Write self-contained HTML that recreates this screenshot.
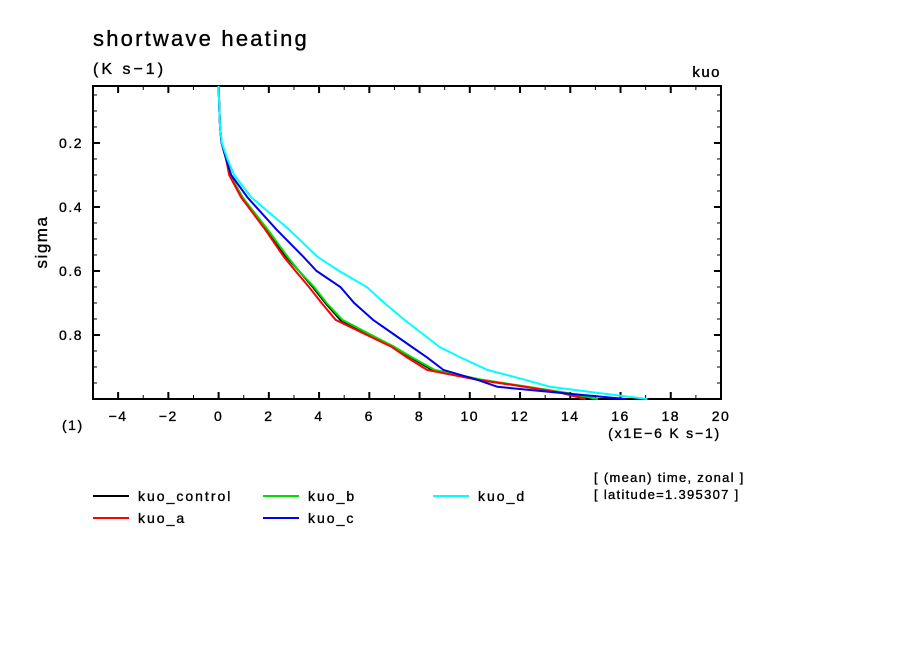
<!DOCTYPE html>
<html><head><meta charset="utf-8"><style>
html,body{margin:0;padding:0;background:#fff;}
svg{display:block;font-family:"Liberation Sans",sans-serif;}
text{stroke:#000;stroke-width:0.35;}
</style></head><body>
<svg id="chart" width="904" height="654" viewBox="0 0 904 654">
<text x="93" y="46" font-size="22" letter-spacing="2.2">shortwave heating</text>
<text x="93" y="74" font-size="16" letter-spacing="3">(K s−1)</text>
<text x="721" y="77" font-size="15" letter-spacing="1.5" text-anchor="end">kuo</text>
<text x="47" y="242" font-size="17" letter-spacing="1.5" transform="rotate(-90 47 242)" text-anchor="middle">sigma</text>
<text x="62" y="430" font-size="14" letter-spacing="1.5">(1)</text>
<text x="721" y="438" font-size="14" letter-spacing="1.8" text-anchor="end">(x1E−6 K s−1)</text>
<text x="594" y="482" font-size="13" letter-spacing="1.3">[ (mean) time, zonal ]</text>
<text x="594" y="499" font-size="13" letter-spacing="1.3">[ latitude=1.395307 ]</text>
<g id="axes"></g>
<g id="series"></g>
<g id="legend"></g>
</svg>
<script>
const sigma=[0.022,0.1,0.15,0.2,0.25,0.3,0.37,0.47,0.556,0.6,0.65,0.70,0.753,0.8375,0.87,0.909,0.94,0.962,0.98,1.0];
const kuoControl=[0,0.03,0.06,0.12,0.3,0.45,0.95,1.9,2.7,3.2,3.75,4.25,4.85,7.0,7.65,8.5,10.4,12.2,13.7,14.9];
const kuoA=[0,0.03,0.06,0.12,0.3,0.42,0.9,1.85,2.6,3.06,3.6,4.1,4.66,6.9,7.5,8.3,10.3,12.2,13.6,14.6];
const kuoB=[0,0.03,0.06,0.12,0.3,0.45,0.95,1.95,2.75,3.2,3.8,4.3,4.93,7.0,7.7,8.6,10.5,12.3,13.8,15.1];
const kuoC=[0,0.03,0.06,0.12,0.3,0.5,1.15,2.3,3.38,3.9,4.85,5.4,6.15,7.7,8.3,8.95,10.3,11.1,13.5,16.2];
const kuoD=[0,0.03,0.06,0.13,0.35,0.62,1.3,2.8,3.94,4.8,5.9,6.6,7.4,8.8,9.63,10.7,12.2,13.2,15.0,17.07];
const seriesNames=["kuo_control","kuo_a","kuo_b","kuo_c","kuo_d"];
const xTicks=[-4,-2,0,2,4,6,8,10,12,14,16,18,20];
const yTicks=[0.2,0.4,0.6,0.8];

const L=93,R=721,T=86,B=399,X0=-5,X1=20,S0=0.022,S1=1.0;
const xs=v=>L+(v-X0)/(X1-X0)*(R-L);
const ys=s=>T+(s-S0)/(S1-S0)*(B-T);
const NS="http://www.w3.org/2000/svg";
function mk(tag,attrs,parent){const e=document.createElementNS(NS,tag);for(const k in attrs)e.setAttribute(k,attrs[k]);parent.appendChild(e);return e;}
const axes=document.getElementById('axes');
const frame=mk('rect',{x:L,y:T,width:R-L,height:B-T,fill:'none',stroke:'#000','stroke-width':2},axes);


for(let v=X0+1;v<X1;v++){
  const maj=(v%2===0);const len=maj?7:4;const x=xs(v);
  const t1=mk('line',{x1:x,x2:x,y1:B,y2:B-len,stroke:'#000','stroke-width':maj?2:1},axes);
  
  
  const t2=mk('line',{x1:x,x2:x,y1:T,y2:T+len,stroke:'#000','stroke-width':maj?2:1},axes);
  
  
}
xTicks.forEach(v=>{
  const t=mk('text',{x:xs(v),y:B+22,'font-size':14,'text-anchor':'middle','letter-spacing':1.5},axes);
  t.textContent=v<0?'−'+(-v):String(v);
  
  
});
for(let k=1;k<20;k++){
  const s=k*0.05;if(s<=S0)continue;
  const maj=(k%4===0);const len=maj?7:4;const y=ys(s);
  const t1=mk('line',{x1:L,x2:L+len,y1:y,y2:y,stroke:'#000','stroke-width':maj?2:1},axes);
  
  
  const t2=mk('line',{x1:R,x2:R-len,y1:y,y2:y,stroke:'#000','stroke-width':maj?2:1},axes);
  
  
}
yTicks.forEach(s=>{
  const t=mk('text',{x:L-10,y:ys(s)+5,'font-size':14,'text-anchor':'end','letter-spacing':1.5},axes);
  t.textContent=s.toFixed(1);
  
  
});
const ser=document.getElementById('series');
const data=[kuoControl,kuoA,kuoB,kuoC,kuoD];
const colors=['#000','#f00','#0d0','#00e','#0ff'];
const drawOrder=[0,2,1,3,4];
drawOrder.forEach(i=>{
  const pts=data[i].map((v,j)=>xs(v).toFixed(1)+','+ys(sigma[j]).toFixed(1)).join(' ');
  const p=mk('polyline',{points:pts,fill:'none',stroke:colors[i],'stroke-width':2},ser);
  
  
});
const leg=document.getElementById('legend');
const lpos=[[93,496],[93,518],[263,496],[263,518],[433,496]];
seriesNames.forEach((n,i)=>{
  const [x,y]=lpos[i];
  const g=mk('g',{},leg);
  
  
  mk('line',{x1:x,x2:x+36,y1:y,y2:y,stroke:colors[i],'stroke-width':2},g);
  const t=mk('text',{x:x+45,y:y+5,'font-size':14,'letter-spacing':2},g);
  t.textContent=n;
});
</script>
</body></html>
